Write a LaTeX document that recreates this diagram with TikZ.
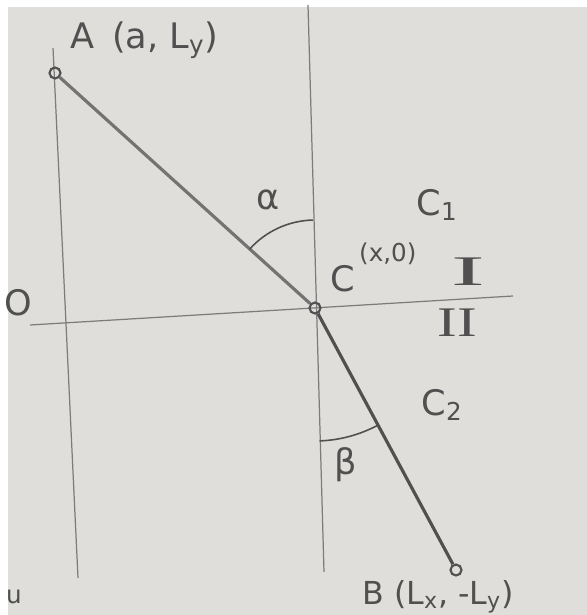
\documentclass[tikz,border=0pt]{standalone}
\usepackage{fontspec}
\setmainfont{DejaVu Sans}
\newfontfamily\roemischfont{Liberation Serif}
\usetikzlibrary{positioning,angles}
\definecolor{papier}{RGB}{224,222,218}
\definecolor{bleistift}{RGB}{80,80,80}

\begin{document}
\begin{tikzpicture}
  [x=0.02cm, y=-0.02cm,
  punkt/.style={circle, draw=bleistift, line width=1.2pt, inner sep=0pt, minimum size=2.2mm},
  achse/.style={draw=bleistift!75, line width=0.7pt},
  strahl/.style={draw=bleistift, line width=1.8pt},
  winkel/.style={draw=bleistift, line width=0.9pt},
  schrift/.style={text=bleistift, font=\fontsize{20}{24}\selectfont, inner sep=0pt},
  schrift2/.style={text=bleistift, font=\fontsize{14}{16}\selectfont, inner sep=0pt},
  roemisch/.style={text=bleistift, font=\roemischfont\fontsize{24}{26}\selectfont, inner sep=0pt}]
  \useasboundingbox (0,0) rectangle (587,615);
  \fill[white] (0,0) rectangle (587,615);
  \fill[papier] (8,7) rectangle (587,615);
  % Hilfslinien
  \coordinate (links1) at (53,48);
  \coordinate (links2) at (78,578);
  \coordinate (oben) at (308,5);
  \coordinate (unten) at (324,572);
  \coordinate (grenze1) at (30,325);
  \coordinate (grenze2) at (513,296);
  \draw[achse] (links1) -- (links2);
  \draw[achse] (oben) -- (unten);
  \draw[achse] (grenze1) -- (grenze2);
  % Punkte und Lichtweg
  \node (A) [punkt] at (55,73) {};
  \node (C) [punkt] at (315,308) {};
  \node (B) [punkt] at (456,570) {};
  \draw[strahl, draw=bleistift!80] (A) -- (C);
  \draw[strahl] (C) -- (B);
  \pic [winkel, angle radius=1.76cm] {angle = oben--C--A};
  \pic [winkel, angle radius=2.66cm] {angle = unten--C--B};
  % Beschriftung
  \node (Atext) [schrift, above right=0.18cm and 0.22cm of A] {A \,(a, L\textsubscript{y})};
  \node (Ctext) [schrift, above right=0.22cm and 0.22cm of C] {C};
  \node (Choch) [schrift2, above right=0cm and 0.06cm of Ctext] {(x,0)};
  \node (Btext) [schrift, font=\fontsize{18}{20}\selectfont, anchor=base west] at (362,604) {B (L\textsubscript{x}, -L\textsubscript{y})};
  \node (alpha) [schrift] at (268,200) {α};
  \node (beta) [schrift] at (346,465) {β};
  \node (c1) [schrift] at (437,205) {C\textsubscript{1}};
  \node (c2) [schrift] at (442,405) {C\textsubscript{2}};
  \node (eins) [roemisch, xscale=2.4] at (468,272) {I};
  \node (zwei) [roemisch, xscale=1.4] at (457,323) {II};
  \node (O) [schrift] at (18,303) {O};
  \node (u) [schrift2] at (14,597) {u};
\end{tikzpicture}
\end{document}
